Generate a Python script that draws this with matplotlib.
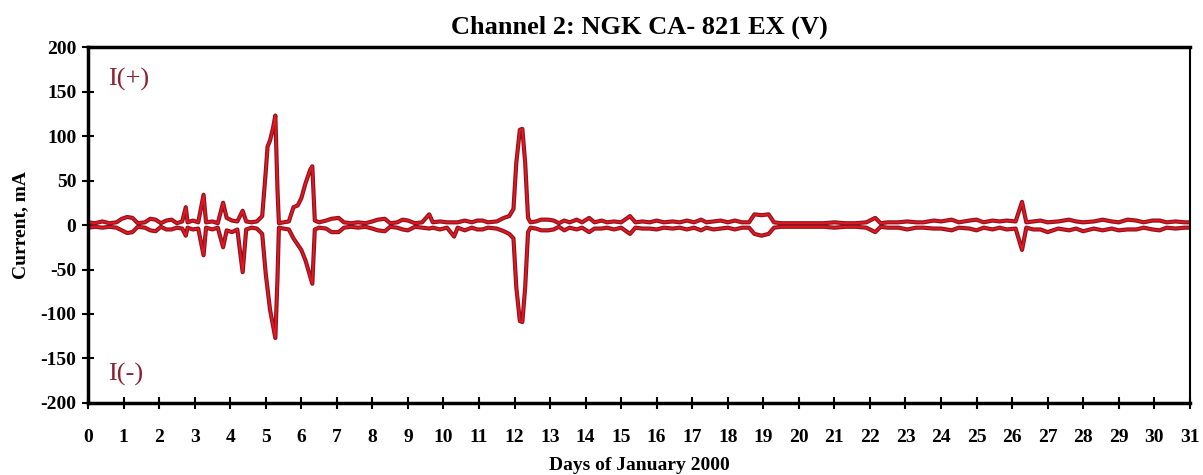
import matplotlib.pyplot as plt

plt.rcParams['axes.unicode_minus'] = False

# days of January 2000 and the two current envelopes (mA)
days = [0.0, 0.2, 0.4, 0.6, 0.8, 0.95, 1.1, 1.25, 1.4, 1.6, 1.75, 1.9, 2.05, 2.2, 2.35, 2.5,
        2.65, 2.75, 2.8, 2.95, 3.1, 3.25, 3.32, 3.5, 3.65, 3.8, 3.9, 4.05, 4.2, 4.35, 4.45,
        4.6, 4.75, 4.9, 5.0, 5.05, 5.12, 5.2, 5.27, 5.33, 5.37, 5.5, 5.65, 5.78, 5.9, 6.0,
        6.12, 6.25, 6.31, 6.38, 6.5, 6.7, 6.85, 7.05, 7.2, 7.4, 7.6, 7.8, 8.0, 8.15, 8.35,
        8.5, 8.7, 8.85, 9.0, 9.2, 9.4, 9.6, 9.7, 9.9, 10.1, 10.3, 10.4, 10.6, 10.8, 10.95,
        11.1, 11.25, 11.5, 11.7, 11.85, 11.97, 12.05, 12.15, 12.22, 12.3, 12.38, 12.45,
        12.6, 12.75, 12.95, 13.1, 13.25, 13.4, 13.55, 13.75, 13.9, 14.1, 14.25, 14.45,
        14.6, 14.8, 15.0, 15.25, 15.4, 15.6, 15.8, 16.0, 16.2, 16.45, 16.65, 16.85, 17.05,
        17.25, 17.4, 17.6, 17.8, 18.0, 18.2, 18.4, 18.6, 18.75, 18.95, 19.15, 19.3, 19.5,
        19.8, 20.1, 20.4, 20.7, 21.0, 21.3, 21.6, 21.9, 22.15, 22.3, 22.5, 22.8, 23.05,
        23.3, 23.5, 23.8, 24.0, 24.3, 24.5, 24.8, 25.0, 25.2, 25.45, 25.65, 25.85, 26.1,
        26.28, 26.4, 26.6, 26.8, 27.0, 27.3, 27.6, 27.8, 28.0, 28.3, 28.55, 28.8, 29.0,
        29.25, 29.5, 29.7, 29.95, 30.15, 30.35, 30.6, 30.85, 31.0]

i_pos = [3, 2, 4, 2, 3, 7, 9, 8, 2, 3, 7, 6, 2, 5, 6, 2,
         4, 20, 3, 5, 3, 34, 3, 4, 2, 25, 8, 5, 4, 16, 4,
         3, 4, 10, 60, 88, 95, 108, 123, 40, 2, 3, 4, 20, 22, 30,
         47, 62, 66, 5, 3, 5, 7, 8, 3, 2, 3, 2, 4, 6, 7,
         2, 3, 6, 5, 2, 3, 12, 3, 4, 3, 3, 3, 5, 3, 5,
         5, 3, 4, 8, 10, 18, 70, 107, 108, 70, 8, 3,
         4, 6, 6, 5, 2, 5, 3, 6, 3, 8, 3, 5,
         3, 4, 3, 10, 3, 4, 3, 5, 3, 4, 3, 5, 3,
         6, 3, 4, 5, 3, 5, 3, 3, 12, 11, 12, 3, 2,
         2, 2, 2, 2, 3, 2, 2, 3, 8, 2, 3, 3, 4,
         3, 3, 5, 4, 6, 3, 5, 6, 3, 5, 4, 5, 4,
         26, 3, 4, 5, 3, 4, 6, 4, 3, 4, 6, 4, 3,
         6, 5, 3, 5, 5, 3, 4, 3, 3]

i_neg = [-3, -2, -3, -2, -3, -6, -9, -8, -2, -3, -6, -7, -2, -5, -5, -3,
         -4, -12, -3, -5, -4, -34, -3, -5, -3, -25, -6, -8, -5, -53, -5,
         -3, -4, -10, -55, -72, -95, -112, -127, -60, -3, -4, -5, -15, -22, -28,
         -40, -58, -66, -5, -3, -4, -8, -8, -3, -2, -3, -2, -4, -6, -7,
         -2, -3, -5, -6, -2, -3, -4, -3, -5, -3, -13, -3, -6, -3, -5,
         -5, -3, -4, -7, -10, -15, -70, -108, -109, -70, -8, -3,
         -4, -6, -6, -5, -2, -6, -3, -5, -3, -8, -4, -4,
         -3, -5, -3, -10, -3, -4, -4, -5, -3, -4, -3, -5, -3,
         -6, -3, -5, -4, -3, -5, -3, -3, -10, -12, -10, -3, -2,
         -2, -2, -2, -2, -3, -2, -2, -3, -8, -2, -3, -3, -5,
         -3, -3, -4, -4, -6, -3, -4, -6, -3, -5, -3, -5, -4,
         -28, -3, -5, -5, -8, -4, -6, -4, -7, -4, -6, -4, -6,
         -5, -5, -3, -5, -6, -3, -4, -3, -3]

x_ticks = list(range(0, 32))
y_ticks = [-200, -150, -100, -50, 0, 50, 100, 150, 200]

serif = ['Liberation Serif', 'DejaVu Serif']

fig = plt.figure(figsize=(12.03, 4.75), dpi=100)
ax = fig.add_axes([0.0732, 0.1516, 0.9158, 0.7494])

for ys in (i_pos, i_neg):
    ax.plot(days, ys, color='#8a1420', lw=3.0, solid_joinstyle='round')
    ax.plot(days, ys, color='#e8161e', lw=1.3, solid_joinstyle='round')

ax.set_xlim(0, 31)
ax.set_ylim(-200, 200)
ax.set_xticks(x_ticks)
ax.set_yticks(y_ticks)
ax.tick_params(direction='inout', length=9, width=1.5, labelsize=14)
ax.tick_params(axis='x', pad=14)
ax.tick_params(axis='y', pad=4)
for lab in ax.get_xticklabels() + ax.get_yticklabels():
    lab.set_family(serif)
    lab.set_weight('bold')

for side in ('left', 'bottom', 'top'):
    ax.spines[side].set_linewidth(2.5)
ax.spines['right'].set_linewidth(1.5)

ax.text(0.57, 163, 'I(+)', color='#8b2232', fontsize=19, family=serif, va='center')
ax.text(0.57, -168, 'I(-)', color='#8b2232', fontsize=19, family=serif, va='center')

ax.set_title('Channel 2: NGK CA- 821 EX (V)', fontsize=19, fontweight='bold',
             family=serif, pad=10)
ax.set_xlabel('Days of January 2000', fontsize=14, fontweight='bold', family=serif,
              labelpad=8)
ax.set_ylabel('Current, mA', fontsize=14, fontweight='bold', family=serif, labelpad=8)

plt.savefig('out.png', dpi=100)
